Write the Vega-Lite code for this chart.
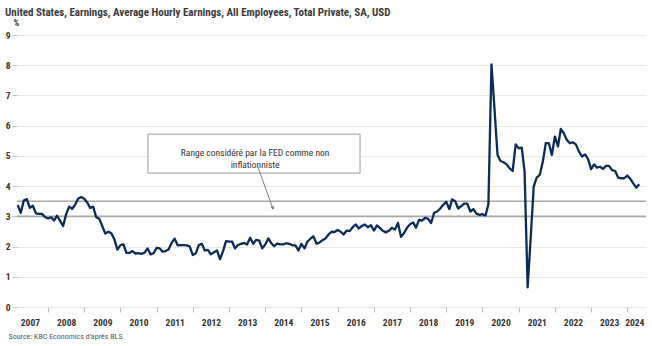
{
  "$schema": "https://vega.github.io/schema/vega-lite/v6.json",
  "width": 629,
  "height": 272,
  "autosize": {"type": "none"},
  "padding": {"left": 17, "top": 35, "right": 6, "bottom": 39},
  "background": "white",
  "title": {
    "text": "United States, Earnings, Average Hourly Earnings, All Employees, Total Private, SA, USD",
    "anchor": "start",
    "frame": "group",
    "dx": -12,
    "offset": 0,
    "font": "Liberation Sans Narrow, Roboto Condensed, Roboto, sans-serif",
    "fontSize": 11,
    "fontWeight": "bold",
    "color": "#3a3a3a"
  },
  "config": {"view": {"stroke": null}},
  "data": {"values": [
    {"d":"2007-03-01","v":3.37},{"d":"2007-04-01","v":3.12},{"d":"2007-05-01","v":3.52},{"d":"2007-06-01","v":3.57},{"d":"2007-07-01","v":3.28},{"d":"2007-08-01","v":3.35},{"d":"2007-09-01","v":3.10},{"d":"2007-10-01","v":3.08},{"d":"2007-11-01","v":3.08},{"d":"2007-12-01","v":2.98},
    {"d":"2008-01-01","v":2.93},{"d":"2008-02-01","v":2.97},{"d":"2008-03-01","v":2.86},{"d":"2008-04-01","v":3.02},{"d":"2008-05-01","v":2.86},{"d":"2008-06-01","v":2.68},{"d":"2008-07-01","v":3.06},{"d":"2008-08-01","v":3.32},{"d":"2008-09-01","v":3.25},{"d":"2008-10-01","v":3.39},{"d":"2008-11-01","v":3.59},{"d":"2008-12-01","v":3.64},
    {"d":"2009-01-01","v":3.58},{"d":"2009-02-01","v":3.45},{"d":"2009-03-01","v":3.28},{"d":"2009-04-01","v":3.32},{"d":"2009-05-01","v":2.97},{"d":"2009-06-01","v":2.92},{"d":"2009-07-01","v":2.68},{"d":"2009-08-01","v":2.43},{"d":"2009-09-01","v":2.49},{"d":"2009-10-01","v":2.44},{"d":"2009-11-01","v":2.23},{"d":"2009-12-01","v":1.90},
    {"d":"2010-01-01","v":2.05},{"d":"2010-02-01","v":2.07},{"d":"2010-03-01","v":1.79},{"d":"2010-04-01","v":1.79},{"d":"2010-05-01","v":1.85},{"d":"2010-06-01","v":1.77},{"d":"2010-07-01","v":1.78},{"d":"2010-08-01","v":1.76},{"d":"2010-09-01","v":1.80},{"d":"2010-10-01","v":1.94},{"d":"2010-11-01","v":1.74},{"d":"2010-12-01","v":1.78},
    {"d":"2011-01-01","v":1.96},{"d":"2011-02-01","v":1.94},{"d":"2011-03-01","v":1.83},{"d":"2011-04-01","v":1.85},{"d":"2011-05-01","v":1.90},{"d":"2011-06-01","v":2.12},{"d":"2011-07-01","v":2.26},{"d":"2011-08-01","v":2.04},{"d":"2011-09-01","v":2.05},{"d":"2011-10-01","v":2.05},{"d":"2011-11-01","v":2.04},{"d":"2011-12-01","v":2.00},
    {"d":"2012-01-01","v":1.72},{"d":"2012-02-01","v":1.78},{"d":"2012-03-01","v":2.05},{"d":"2012-04-01","v":2.09},{"d":"2012-05-01","v":1.87},{"d":"2012-06-01","v":1.89},{"d":"2012-07-01","v":1.74},{"d":"2012-08-01","v":1.81},{"d":"2012-09-01","v":1.87},{"d":"2012-10-01","v":1.58},{"d":"2012-11-01","v":1.85},{"d":"2012-12-01","v":2.18},
    {"d":"2013-01-01","v":2.16},{"d":"2013-02-01","v":2.16},{"d":"2013-03-01","v":1.94},{"d":"2013-04-01","v":2.05},{"d":"2013-05-01","v":2.09},{"d":"2013-06-01","v":2.12},{"d":"2013-07-01","v":2.07},{"d":"2013-08-01","v":2.29},{"d":"2013-09-01","v":2.09},{"d":"2013-10-01","v":2.22},{"d":"2013-11-01","v":2.20},{"d":"2013-12-01","v":1.94},
    {"d":"2014-01-01","v":2.07},{"d":"2014-02-01","v":2.27},{"d":"2014-03-01","v":2.12},{"d":"2014-04-01","v":2.01},{"d":"2014-05-01","v":2.10},{"d":"2014-06-01","v":2.07},{"d":"2014-07-01","v":2.07},{"d":"2014-08-01","v":2.11},{"d":"2014-09-01","v":2.09},{"d":"2014-10-01","v":2.04},{"d":"2014-11-01","v":2.04},{"d":"2014-12-01","v":1.87},
    {"d":"2015-01-01","v":2.09},{"d":"2015-02-01","v":1.94},{"d":"2015-03-01","v":2.16},{"d":"2015-04-01","v":2.26},{"d":"2015-05-01","v":2.34},{"d":"2015-06-01","v":2.10},{"d":"2015-07-01","v":2.13},{"d":"2015-08-01","v":2.21},{"d":"2015-09-01","v":2.27},{"d":"2015-10-01","v":2.40},{"d":"2015-11-01","v":2.49},{"d":"2015-12-01","v":2.48},
    {"d":"2016-01-01","v":2.55},{"d":"2016-02-01","v":2.49},{"d":"2016-03-01","v":2.40},{"d":"2016-04-01","v":2.53},{"d":"2016-05-01","v":2.51},{"d":"2016-06-01","v":2.64},{"d":"2016-07-01","v":2.73},{"d":"2016-08-01","v":2.60},{"d":"2016-09-01","v":2.68},{"d":"2016-10-01","v":2.73},{"d":"2016-11-01","v":2.64},{"d":"2016-12-01","v":2.71},
    {"d":"2017-01-01","v":2.53},{"d":"2017-02-01","v":2.70},{"d":"2017-03-01","v":2.62},{"d":"2017-04-01","v":2.52},{"d":"2017-05-01","v":2.47},{"d":"2017-06-01","v":2.52},{"d":"2017-07-01","v":2.62},{"d":"2017-08-01","v":2.56},{"d":"2017-09-01","v":2.78},{"d":"2017-10-01","v":2.32},{"d":"2017-11-01","v":2.45},{"d":"2017-12-01","v":2.62},
    {"d":"2018-01-01","v":2.74},{"d":"2018-02-01","v":2.80},{"d":"2018-03-01","v":2.62},{"d":"2018-04-01","v":2.88},{"d":"2018-05-01","v":2.86},{"d":"2018-06-01","v":2.95},{"d":"2018-07-01","v":2.92},{"d":"2018-08-01","v":2.78},{"d":"2018-09-01","v":3.12},{"d":"2018-10-01","v":3.16},{"d":"2018-11-01","v":3.26},{"d":"2018-12-01","v":3.38},
    {"d":"2019-01-01","v":3.48},{"d":"2019-02-01","v":3.24},{"d":"2019-03-01","v":3.56},{"d":"2019-04-01","v":3.50},{"d":"2019-05-01","v":3.26},{"d":"2019-06-01","v":3.34},{"d":"2019-07-01","v":3.42},{"d":"2019-08-01","v":3.42},{"d":"2019-09-01","v":3.16},{"d":"2019-10-01","v":3.24},{"d":"2019-11-01","v":3.09},{"d":"2019-12-01","v":3.05},
    {"d":"2020-01-01","v":3.07},{"d":"2020-02-01","v":3.03},{"d":"2020-03-01","v":3.40},{"d":"2020-04-01","v":8.03},{"d":"2020-05-01","v":6.58},{"d":"2020-06-01","v":5.03},{"d":"2020-07-01","v":4.83},{"d":"2020-08-01","v":4.79},{"d":"2020-09-01","v":4.72},{"d":"2020-10-01","v":4.59},{"d":"2020-11-01","v":4.50},{"d":"2020-12-01","v":5.38},
    {"d":"2021-01-01","v":5.25},{"d":"2021-02-01","v":5.27},{"d":"2021-03-01","v":4.48},{"d":"2021-04-01","v":0.65},{"d":"2021-05-01","v":2.25},{"d":"2021-06-01","v":3.98},{"d":"2021-07-01","v":4.28},{"d":"2021-08-01","v":4.37},{"d":"2021-09-01","v":4.81},{"d":"2021-10-01","v":5.42},{"d":"2021-11-01","v":5.42},{"d":"2021-12-01","v":5.03},
    {"d":"2022-01-01","v":5.64},{"d":"2022-02-01","v":5.31},{"d":"2022-03-01","v":5.89},{"d":"2022-04-01","v":5.75},{"d":"2022-05-01","v":5.53},{"d":"2022-06-01","v":5.42},{"d":"2022-07-01","v":5.45},{"d":"2022-08-01","v":5.38},{"d":"2022-09-01","v":5.14},{"d":"2022-10-01","v":4.98},{"d":"2022-11-01","v":5.05},{"d":"2022-12-01","v":4.90},
    {"d":"2023-01-01","v":4.56},{"d":"2023-02-01","v":4.72},{"d":"2023-03-01","v":4.61},{"d":"2023-04-01","v":4.64},{"d":"2023-05-01","v":4.57},{"d":"2023-06-01","v":4.67},{"d":"2023-07-01","v":4.67},{"d":"2023-08-01","v":4.53},{"d":"2023-09-01","v":4.50},{"d":"2023-10-01","v":4.28},{"d":"2023-11-01","v":4.26},{"d":"2023-12-01","v":4.26},
    {"d":"2024-01-01","v":4.35},{"d":"2024-02-01","v":4.24},{"d":"2024-03-01","v":4.09},{"d":"2024-04-01","v":3.95},{"d":"2024-05-01","v":4.06}
  ]},
  "layer": [
    {
      "data": {"values": [{"lim": 3.0}, {"lim": 3.5}]},
      "mark": {"type": "rule", "color": "#a8a8a8", "strokeWidth": 1.6},
      "encoding": {"y": {"field": "lim", "type": "quantitative"}}
    },
    {
      "mark": {"type": "line", "color": "#0c2b58", "strokeWidth": 2.3, "strokeJoin": "round"},
      "encoding": {
        "x": {
          "field": "d", "type": "temporal",
          "title": "Source: KBC Economics d'après BLS",
          "scale": {"domain": [{"year": 2007, "month": 2, "date": 22, "utc": true}, {"year": 2024, "month": 7, "date": 8, "utc": true}], "nice": false},
          "axis": {
            "values": [
              {"year": 2007, "month": 7, "date": 2, "utc": true}, {"year": 2008, "month": 7, "date": 2, "utc": true},
              {"year": 2009, "month": 7, "date": 2, "utc": true}, {"year": 2010, "month": 7, "date": 2, "utc": true},
              {"year": 2011, "month": 7, "date": 2, "utc": true}, {"year": 2012, "month": 7, "date": 2, "utc": true},
              {"year": 2013, "month": 7, "date": 2, "utc": true}, {"year": 2014, "month": 7, "date": 2, "utc": true},
              {"year": 2015, "month": 7, "date": 2, "utc": true}, {"year": 2016, "month": 7, "date": 2, "utc": true},
              {"year": 2017, "month": 7, "date": 2, "utc": true}, {"year": 2018, "month": 7, "date": 2, "utc": true},
              {"year": 2019, "month": 7, "date": 2, "utc": true}, {"year": 2020, "month": 7, "date": 2, "utc": true},
              {"year": 2021, "month": 7, "date": 2, "utc": true}, {"year": 2022, "month": 7, "date": 2, "utc": true},
              {"year": 2023, "month": 7, "date": 2, "utc": true}, {"year": 2024, "month": 7, "date": 2, "utc": true}
            ],
            "tickCount": 40,
            "labelExpr": "utcFormat(datum.value, '%Y')",
            "tickOffset": -18.1,
            "labelOffset": {"condition": {"test": "utcyear(datum.value) == 2024", "value": 7}, "value": 18.1},
            "tickOpacity": {"condition": {"test": "utcyear(datum.value) == 2007", "value": 0}, "value": 1},
            "grid": false,
            "domain": false,
            "ticks": true,
            "tickColor": "#bdbdbd",
            "tickSize": 5,
            "labelPadding": 5,
            "labelFlush": false,
            "labelOverlap": false,
            "labelBound": false,
            "labelAlign": "center",
            "labelFont": "Liberation Sans Narrow, Roboto Condensed, Roboto, sans-serif",
            "labelFontSize": 9.5,
            "labelFontWeight": "bold",
            "labelColor": "#333333",
            "titleX": -9,
            "titleY": 29,
            "titleAlign": "left",
            "titleBaseline": "middle",
            "titleFont": "Liberation Sans Narrow, Roboto Condensed, Roboto, sans-serif",
            "titleFontSize": 8,
            "titleFontWeight": "normal",
            "titleColor": "#555555"
          }
        },
        "y": {
          "field": "v", "type": "quantitative",
          "title": "%",
          "scale": {"domain": [0, 9], "nice": false, "zero": true},
          "axis": {
            "values": [0, 1, 2, 3, 4, 5, 6, 7, 8, 9],
            "tickCount": 40,
            "format": "d",
            "grid": true,
            "gridColor": "#e8e8e8",
            "gridWidth": 1,
            "domain": false,
            "tickColor": "#c8c8c8",
            "tickSize": 5,
            "labelPadding": 2,
            "labelOverlap": false,
            "labelFont": "Liberation Sans Narrow, Roboto Condensed, Roboto, sans-serif",
            "labelFontSize": 9.5,
            "labelFontWeight": "bold",
            "labelColor": "#333333",
            "titleAngle": 0,
            "titleX": -4,
            "titleY": -13,
            "titleAlign": "left",
            "titleBaseline": "middle",
            "titleFont": "Liberation Sans Narrow, Roboto Condensed, Roboto, sans-serif",
            "titleFontSize": 9,
            "titleFontWeight": "bold",
            "titleColor": "#333333"
          }
        }
      }
    },
    {
      "data": {"values": [{}]},
      "mark": {"type": "rect", "fill": "white", "stroke": "#9a9a9a", "strokeWidth": 1},
      "encoding": {
        "x": {"datum": {"year": 2010, "month": 10, "date": 5, "utc": true}, "type": "temporal"},
        "x2": {"datum": {"year": 2016, "month": 8, "date": 14, "utc": true}},
        "y": {"datum": 5.72, "type": "quantitative"},
        "y2": {"datum": 4.43}
      }
    },
    {
      "data": {"values": [{}]},
      "mark": {"type": "text", "text": ["Range considéré par la FED comme non", "inflationniste"], "align": "center", "baseline": "middle", "lineHeight": 12.6, "font": "Liberation Sans Narrow, Roboto Condensed, Roboto, sans-serif", "fontSize": 9.5, "fill": "#333333"},
      "encoding": {
        "x": {"datum": {"year": 2013, "month": 9, "date": 20, "utc": true}, "type": "temporal"},
        "y": {"datum": 5.10, "type": "quantitative"}
      }
    },
    {
      "data": {"values": [{}]},
      "mark": {"type": "rule", "color": "#6e6e6e", "strokeWidth": 0.9},
      "encoding": {
        "x": {"datum": {"year": 2013, "month": 10, "date": 19, "utc": true}, "type": "temporal"},
        "x2": {"datum": {"year": 2014, "month": 3, "date": 20, "utc": true}},
        "y": {"datum": 4.63, "type": "quantitative"},
        "y2": {"datum": 3.24}
      }
    },
    {
      "data": {"values": [{}]},
      "mark": {"type": "point", "shape": "M-0.7,-1.4L0,0L0.7,-1.4", "filled": false, "stroke": "#6e6e6e", "strokeWidth": 0.9, "size": 16, "angle": 340, "opacity": 1},
      "encoding": {
        "x": {"datum": {"year": 2014, "month": 3, "date": 20, "utc": true}, "type": "temporal"},
        "y": {"datum": 3.24, "type": "quantitative"}
      }
    }
  ]
}
